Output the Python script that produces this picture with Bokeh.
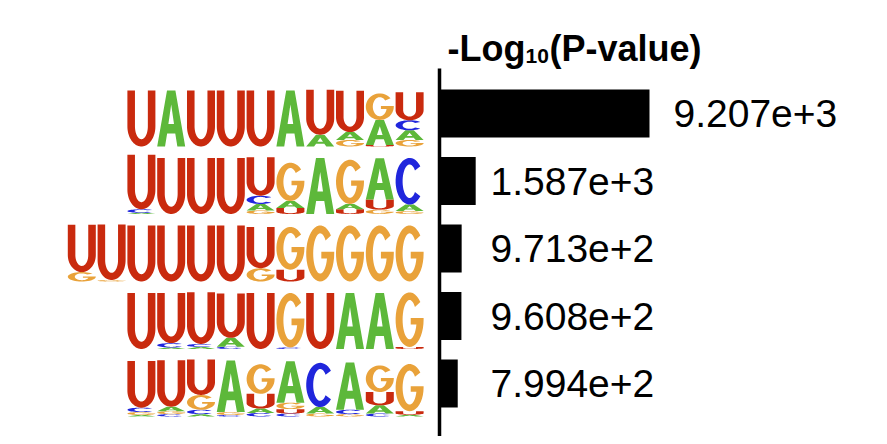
import numpy as np
from bokeh.plotting import figure
from bokeh.models import Range1d, ColumnDataSource, Label
from bokeh.embed import file_html
from bokeh.resources import INLINE
from bokeh.core.properties import value

# ---------------- data ----------------
# letter heights (bits) for each column of each motif
MOTIF_1 = [{"U": 1.9}, {"A": 1.9}, {"U": 1.9}, {"U": 1.9}, {"U": 1.9}, {"A": 1.9},
           {"U": 1.52, "A": 0.4}, {"U": 1.4, "A": 0.27, "G": 0.22},
           {"G": 0.9, "A": 0.85, "U": 0.05}, {"U": 0.95, "C": 0.34, "A": 0.33, "G": 0.22}]
MOTIF_2 = [{"U": 1.85, "C": 0.12, "A": 0.04}, {"U": 1.9}, {"U": 1.9}, {"U": 1.9},
           {"U": 1.3, "C": 0.28, "A": 0.22, "G": 0.12}, {"G": 1.3, "A": 0.24, "U": 0.2},
           {"A": 1.9}, {"G": 1.5, "A": 0.18, "U": 0.16},
           {"A": 1.4, "U": 0.34, "G": 0.15}, {"C": 1.58, "A": 0.22, "G": 0.1}]
MOTIF_3 = [{"U": 1.6, "G": 0.32}, {"U": 1.88, "G": 0.05}, {"U": 1.9}, {"U": 1.9}, {"U": 1.9},
           {"U": 1.9}, {"U": 1.4, "G": 0.45}, {"G": 1.45, "U": 0.4},
           {"G": 1.9}, {"G": 1.9}, {"G": 1.9}, {"G": 1.9}]
MOTIF_4 = [{"U": 1.9}, {"U": 1.7, "C": 0.15, "A": 0.05}, {"U": 1.75, "C": 0.1, "A": 0.07},
           {"U": 1.5, "A": 0.3, "C": 0.08}, {"U": 1.9}, {"G": 1.85, "C": 0.05},
           {"U": 1.9}, {"A": 1.9}, {"A": 1.9}, {"G": 1.85, "U": 0.07}]
MOTIF_5 = [{"U": 1.58, "C": 0.15, "G": 0.1, "A": 0.05}, {"U": 1.58, "A": 0.15, "G": 0.1, "C": 0.08},
           {"U": 1.2, "G": 0.5, "C": 0.15, "A": 0.08}, {"A": 1.75, "G": 0.1, "C": 0.05},
           {"G": 1.0, "U": 0.5, "A": 0.15, "C": 0.12}, {"A": 1.4, "G": 0.22, "U": 0.15, "C": 0.1},
           {"C": 1.5, "A": 0.22, "G": 0.1}, {"A": 1.6, "C": 0.15, "G": 0.08},
           {"G": 0.9, "U": 0.45, "A": 0.28, "C": 0.1}, {"G": 1.6, "U": 0.12, "A": 0.06}]
MOTIFS = [MOTIF_1, MOTIF_2, MOTIF_3, MOTIF_4, MOTIF_5]
NEG_LOG10_P = [9207, 1587, 971.3, 960.8, 799.4]
TITLE_MAIN = "-Log"
TITLE_SUB = "10"
TITLE_END = "(P-value)"

LETTER_COLORS = {"A": "#5DB83A", "C": "#2026DC", "G": "#E9A23A", "U": "#C92A0E"}

# ---------------- layout constants (pixels, figure coordinates) ----------------
W, H = 870, 436
COLW = 29.8           # px per logo column
LOGO_RIGHT = 424      # px right edge of logos
BIT_PX = 29.5         # px per bit
BASE0 = 146           # px baseline of first logo
ROW_STEP = 67.5       # px between rows
BAR_ZERO = 439        # px of bar origin
BAR_SCALE = 210 / 9207  # px per unit


def fmt(v):
    e = int(np.floor(np.log10(v)))
    return f"{v / 10 ** e:.3f}e+{e}"


def arc(cx, cy, rx, ry, a0, a1, n=36):
    t = np.radians(np.linspace(a0, a1, n))
    return list(cx + rx * np.cos(t)), list(cy + ry * np.sin(t))


def letter_rings(ch):
    if ch == "U":
        sw, bt, r = 0.27, 0.13, 0.36
        ox, oy = arc(0.5, r, 0.5, r, 180, 360)
        ix, iy = arc(0.5, r, 0.5 - sw, r - bt, 360, 180)
        return [([0] + ox + [1, 1 - sw] + ix + [sw], [1] + oy + [1, 1] + iy + [1])]
    if ch == "A":
        outer = ([0, 0.35, 0.65, 1, 0.72, 0.645, 0.355, 0.28], [0, 1, 1, 0, 0, 0.23, 0.23, 0])
        hole = ([0.40, 0.5, 0.60], [0.40, 0.75, 0.40])
        return [outer, hole]
    if ch == "C":
        ox, oy = arc(0.5, 0.5, 0.5, 0.5, 40, 320)
        ix, iy = arc(0.5, 0.5, 0.25, 0.36, 320, 40)
        return [(ox + ix, oy + iy)]
    # G
    ox, oy = arc(0.5, 0.5, 0.5, 0.5, 40, 360)
    a = np.degrees(np.arcsin((0.41 - 0.5) / 0.36)) + 360
    ix, iy = arc(0.5, 0.5, 0.25, 0.36, a, 40)
    return [(ox + [1, 0.54, 0.54] + ix, oy + [0.53, 0.53, 0.41] + iy)]


row_base = [-(k * ROW_STEP) / BIT_PX for k in range(len(MOTIFS))]
PAD = 0.03

xs, ys, cols = [], [], []
for k, motif in enumerate(MOTIFS):
    n = len(motif)
    for j, column in enumerate(motif):
        x0 = j - n
        y0 = row_base[k]
        for ch, h in sorted(column.items(), key=lambda it: it[1]):
            rings = letter_rings(ch)
            gx, gy = [], []
            for rx, ry in rings:
                gx.append([x0 + PAD + u * (1 - 2 * PAD) for u in rx])
                gy.append([y0 + v * h for v in ry])
            xs.append([gx])
            ys.append([gy])
            cols.append(LETTER_COLORS[ch])
            y0 += h

logo_src = ColumnDataSource(dict(xs=xs, ys=ys, color=cols))

x_left = -LOGO_RIGHT / COLW
x_right = (W - LOGO_RIGHT) / COLW
y_bot = (BASE0 - H) / BIT_PX
y_top = BASE0 / BIT_PX
b_left = -BAR_ZERO / BAR_SCALE
b_right = (W - BAR_ZERO) / BAR_SCALE

p = figure(width=W, height=H, x_range=Range1d(x_left, x_right), y_range=Range1d(y_bot, y_top),
           output_backend="svg", toolbar_location=None, min_border=0,
           x_axis_location=None, y_axis_location=None)
p.extra_x_ranges = {"bars": Range1d(b_left, b_right)}
p.grid.visible = False
p.outline_line_color = None
p.background_fill_color = "white"

p.multi_polygons(xs="xs", ys="ys", fill_color="color", line_color=None, source=logo_src)

bar_y = [b + 33 / BIT_PX for b in row_base]
bar_src = ColumnDataSource(dict(y=bar_y, right=NEG_LOG10_P,
                                label=[fmt(v) for v in NEG_LOG10_P]))
p.hbar(y="y", left=0, right="right", height=48 / BIT_PX, fill_color="black",
       line_color=None, source=bar_src, x_range_name="bars")

# axis line
p.segment(x0=[0], y0=[(BASE0 - 68) / BIT_PX], x1=[0], y1=[y_bot], line_width=3.5,
          line_color="black", x_range_name="bars")

# value labels
LABEL_COL = 51 / BAR_SCALE
LABEL_PAD = 24 / BAR_SCALE
bar_src.data["lx"] = [v + LABEL_PAD if v > LABEL_COL else LABEL_COL for v in NEG_LOG10_P]
p.text(x="lx", y="y", text="label", source=bar_src, x_range_name="bars",
       text_font=value("Liberation Sans"), text_font_size="39px",
       text_baseline="middle", text_align="left", text_color="black")

# title with subscript
ty = (BASE0 - 48) / BIT_PX
common = dict(x=0, y=ty, x_range_name="bars", text_font="Liberation Sans",
              text_font_style="bold", text_color="black", text_baseline="alphabetic")
p.add_layout(Label(text=TITLE_MAIN, x_offset=8, text_font_size="36px", **common))
p.add_layout(Label(text=TITLE_SUB, x_offset=86, y_offset=-7, text_font_size="21px", **common))
p.add_layout(Label(text=TITLE_END, x_offset=110, text_font_size="36px", **common))

open("out.html", "w").write(file_html(p, INLINE))
